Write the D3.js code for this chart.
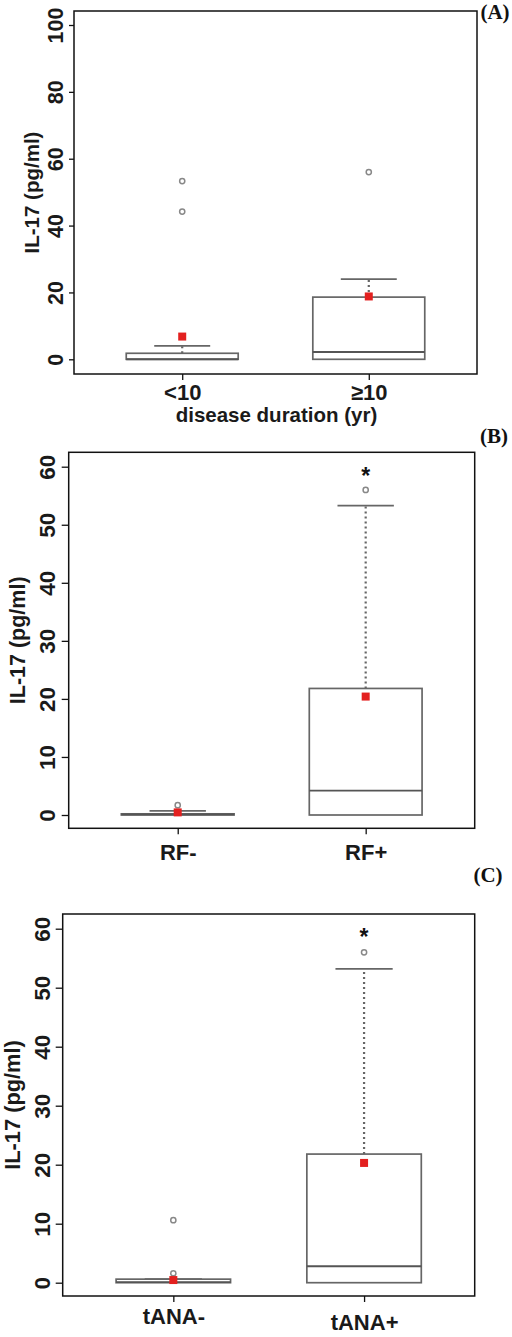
<!DOCTYPE html>
<html>
<head>
<meta charset="utf-8">
<script src="https://cdn.jsdelivr.net/npm/d3@7"></script>
<style>
  html, body { margin: 0; padding: 0; background: #fff; }
  svg { display: block; }
  .sans { font-family: "Liberation Sans", Arial, sans-serif; font-weight: bold; }
  .serif { font-family: "Liberation Serif", "Times New Roman", serif; font-weight: bold; }
</style>
</head>
<body>
<svg id="chart" width="512" height="1337"></svg>
<script>
// ---------- DATA ----------
// Panel A: disease duration
const aCategories = ["<10", "\u226510"];
const aQ1 = [0, 0];
const aMedian = [0, 2.2];
const aQ3 = [1.8, 18.6];
const aWhiskerLow = [0, 0];
const aWhiskerHigh = [4, 24];
const aMeans = [6.8, 18.8];
const aOutliers = [[53.3, 44.2], [56]];
const aStars = [null, null];
const aTicks = [0, 20, 40, 60, 80, 100];
const aXTitle = "disease duration (yr)";

// Panel B: RF
const bCategories = ["RF-", "RF+"];
const bQ1 = [0, 0];
const bMedian = [0.1, 4.2];
const bQ3 = [0.2, 21.8];
const bWhiskerLow = [0, 0];
const bWhiskerHigh = [0.7, 53.3];
const bMeans = [0.45, 20.4];
const bOutliers = [[1.7], [56]];
const bStars = [null, 59.1];
const bTicks = [0, 10, 20, 30, 40, 50, 60];

// Panel C: tANA
const cCategories = ["tANA-", "tANA+"];
const cQ1 = [0, 0];
const cMedian = [0.1, 2.8];
const cQ3 = [0.6, 21.8];
const cWhiskerLow = [0, 0];
const cWhiskerHigh = [0.6, 53.2];
const cMeans = [0.45, 20.3];
const cOutliers = [[10.6, 1.6], [56]];
const cStars = [null, 59.2];
const cTicks = [0, 10, 20, 30, 40, 50, 60];

const yTitle = "IL-17 (pg/ml)";
const panelTags = ["(A)", "(B)", "(C)"];

// ---------- LAYOUT ----------
const panels = [
  { cats: aCategories, q1: aQ1, med: aMedian, q3: aQ3, wlo: aWhiskerLow, whi: aWhiskerHigh,
    means: aMeans, outs: aOutliers, stars: aStars, ticks: aTicks, xTitle: aXTitle, tag: panelTags[0],
    frame: { l: 74, r: 477, t: 11, b: 374 }, yDom: [0, 100], yRange: [359.3, 25],
    tickLen: 5, tickFont: 21.5, tickOff: 11, yTitleX: 39, yTitleFont: 20.5,
    xLabelBase: 400, xLabelShift: [0, 0], xTitleBase: 422, tagX: 495, tagY: 18.5 },
  { cats: bCategories, q1: bQ1, med: bMedian, q3: bQ3, wlo: bWhiskerLow, whi: bWhiskerHigh,
    means: bMeans, outs: bOutliers, stars: bStars, ticks: bTicks, xTitle: null, tag: panelTags[1],
    frame: { l: 68.7, r: 474.7, t: 452.3, b: 828.3 }, yDom: [0, 60], yRange: [815, 466.7],
    tickLen: 7, tickFont: 22.5, tickOff: 13.7, yTitleX: 25, yTitleFont: 21.5,
    xLabelBase: 860.5, xLabelShift: [0, 0], xTitleBase: null, tagX: 494, tagY: 443 },
  { cats: cCategories, q1: cQ1, med: cMedian, q3: cQ3, wlo: cWhiskerLow, whi: cWhiskerHigh,
    means: cMeans, outs: cOutliers, stars: cStars, ticks: cTicks, xTitle: null, tag: panelTags[2],
    frame: { l: 62.7, r: 474.7, t: 914, b: 1296 }, yDom: [0, 60], yRange: [1282.7, 928.7],
    tickLen: 7, tickFont: 22.5, tickOff: 12.7, yTitleX: 20, yTitleFont: 21.8,
    xLabelBase: 1324, xLabelShift: [0, 6], xTitleBase: null, tagX: 488, tagY: 882 }
];

const svg = d3.select("#chart");
const boxStroke = "#666666";
const redMean = "#e3201f";

panels.forEach((p) => {
  const g = svg.append("g");
  const f = p.frame;
  const x = d3.scaleLinear().domain([0.42, 2.58]).range([f.l, f.r]);
  const y = d3.scaleLinear().domain(p.yDom).range(p.yRange);
  const unit = x(2) - x(1);
  const boxHalf = unit * 0.3;
  const capHalf = boxHalf * 0.5;

  // frame
  g.append("rect").attr("x", f.l).attr("y", f.t).attr("width", f.r - f.l).attr("height", f.b - f.t)
    .attr("fill", "none").attr("stroke", "#111").attr("stroke-width", 1.5);

  // y axis
  const yAxis = g.append("g").attr("transform", `translate(${f.l},0)`)
    .call(d3.axisLeft(y).tickValues(p.ticks).tickSize(p.tickLen).tickSizeOuter(0));
  yAxis.select(".domain").remove();
  yAxis.selectAll(".tick line").attr("stroke", "#111").attr("stroke-width", 1.3);
  yAxis.selectAll(".tick text")
    .attr("class", "sans")
    .attr("transform", "rotate(-90)")
    .attr("x", 0).attr("y", -p.tickOff).attr("dy", 0)
    .attr("text-anchor", "middle")
    .attr("fill", "#1a1a1a")
    .style("font-size", p.tickFont + "px");

  // x axis
  const xAxis = g.append("g").attr("transform", `translate(0,${f.b})`)
    .call(d3.axisBottom(x).tickValues([1, 2]).tickFormat((d, i) => p.cats[i]).tickSize(6).tickSizeOuter(0));
  xAxis.select(".domain").remove();
  xAxis.selectAll(".tick line").attr("stroke", "#111").attr("stroke-width", 1.3);
  xAxis.selectAll(".tick text")
    .attr("class", "sans")
    .attr("y", (d, i) => p.xLabelBase - f.b + p.xLabelShift[i]).attr("dy", 0)
    .attr("fill", "#1a1a1a")
    .style("font-size", "22px");

  // y title
  g.append("text").attr("class", "sans")
    .attr("transform", `translate(${p.yTitleX},${(f.t + f.b) / 2})) rotate(-90)`.replace("))", ")"))
    .attr("text-anchor", "middle").attr("fill", "#1a1a1a")
    .style("font-size", p.yTitleFont + "px").text(yTitle);

  if (p.xTitle) {
    g.append("text").attr("class", "sans")
      .attr("x", (f.l + f.r) / 2 + 1).attr("y", p.xTitleBase)
      .attr("text-anchor", "middle").attr("fill", "#1a1a1a")
      .style("font-size", "20.5px").text(p.xTitle);
  }

  // panel tag
  g.append("text").attr("class", "serif")
    .attr("x", p.tagX).attr("y", p.tagY).attr("text-anchor", "middle")
    .attr("fill", "#111").style("font-size", "21px").text(p.tag);

  // boxes
  p.cats.forEach((c, i) => {
    const cx = x(i + 1);
    const bg = g.append("g");
    // whisker (dotted)
    if (p.whi[i] > p.q3[i]) {
      bg.append("line").attr("x1", cx).attr("x2", cx)
        .attr("y1", y(p.q3[i])).attr("y2", y(p.whi[i]))
        .attr("stroke", "#666").attr("stroke-width", 2.2).attr("stroke-dasharray", "2,3");
    }
    // cap
    bg.append("line").attr("x1", cx - capHalf).attr("x2", cx + capHalf)
      .attr("y1", y(p.whi[i])).attr("y2", y(p.whi[i]))
      .attr("stroke", boxStroke).attr("stroke-width", 1.8);
    // box
    bg.append("rect").attr("x", cx - boxHalf).attr("width", boxHalf * 2)
      .attr("y", y(p.q3[i])).attr("height", Math.max(0.01, y(p.q1[i]) - y(p.q3[i])))
      .attr("fill", "#fff").attr("stroke", boxStroke).attr("stroke-width", 1.7);
    // median
    bg.append("line").attr("x1", cx - boxHalf).attr("x2", cx + boxHalf)
      .attr("y1", y(p.med[i])).attr("y2", y(p.med[i]))
      .attr("stroke", "#555").attr("stroke-width", 1.9);
    // outliers
    p.outs[i].forEach((v) => {
      bg.append("circle").attr("cx", cx).attr("cy", y(v)).attr("r", 2.6)
        .attr("fill", "none").attr("stroke", "#888").attr("stroke-width", 1.5);
    });
    // mean
    bg.append("rect").attr("x", cx - 4).attr("y", y(p.means[i]) - 4)
      .attr("width", 8).attr("height", 8).attr("fill", redMean);
    // significance star
    if (p.stars[i] !== null) {
      bg.append("text").attr("class", "sans")
        .attr("x", cx).attr("y", y(p.stars[i]) + 12)
        .attr("text-anchor", "middle").attr("fill", "#111")
        .style("font-size", "23px").text("*");
    }
  });
});
</script>
</body>
</html>
